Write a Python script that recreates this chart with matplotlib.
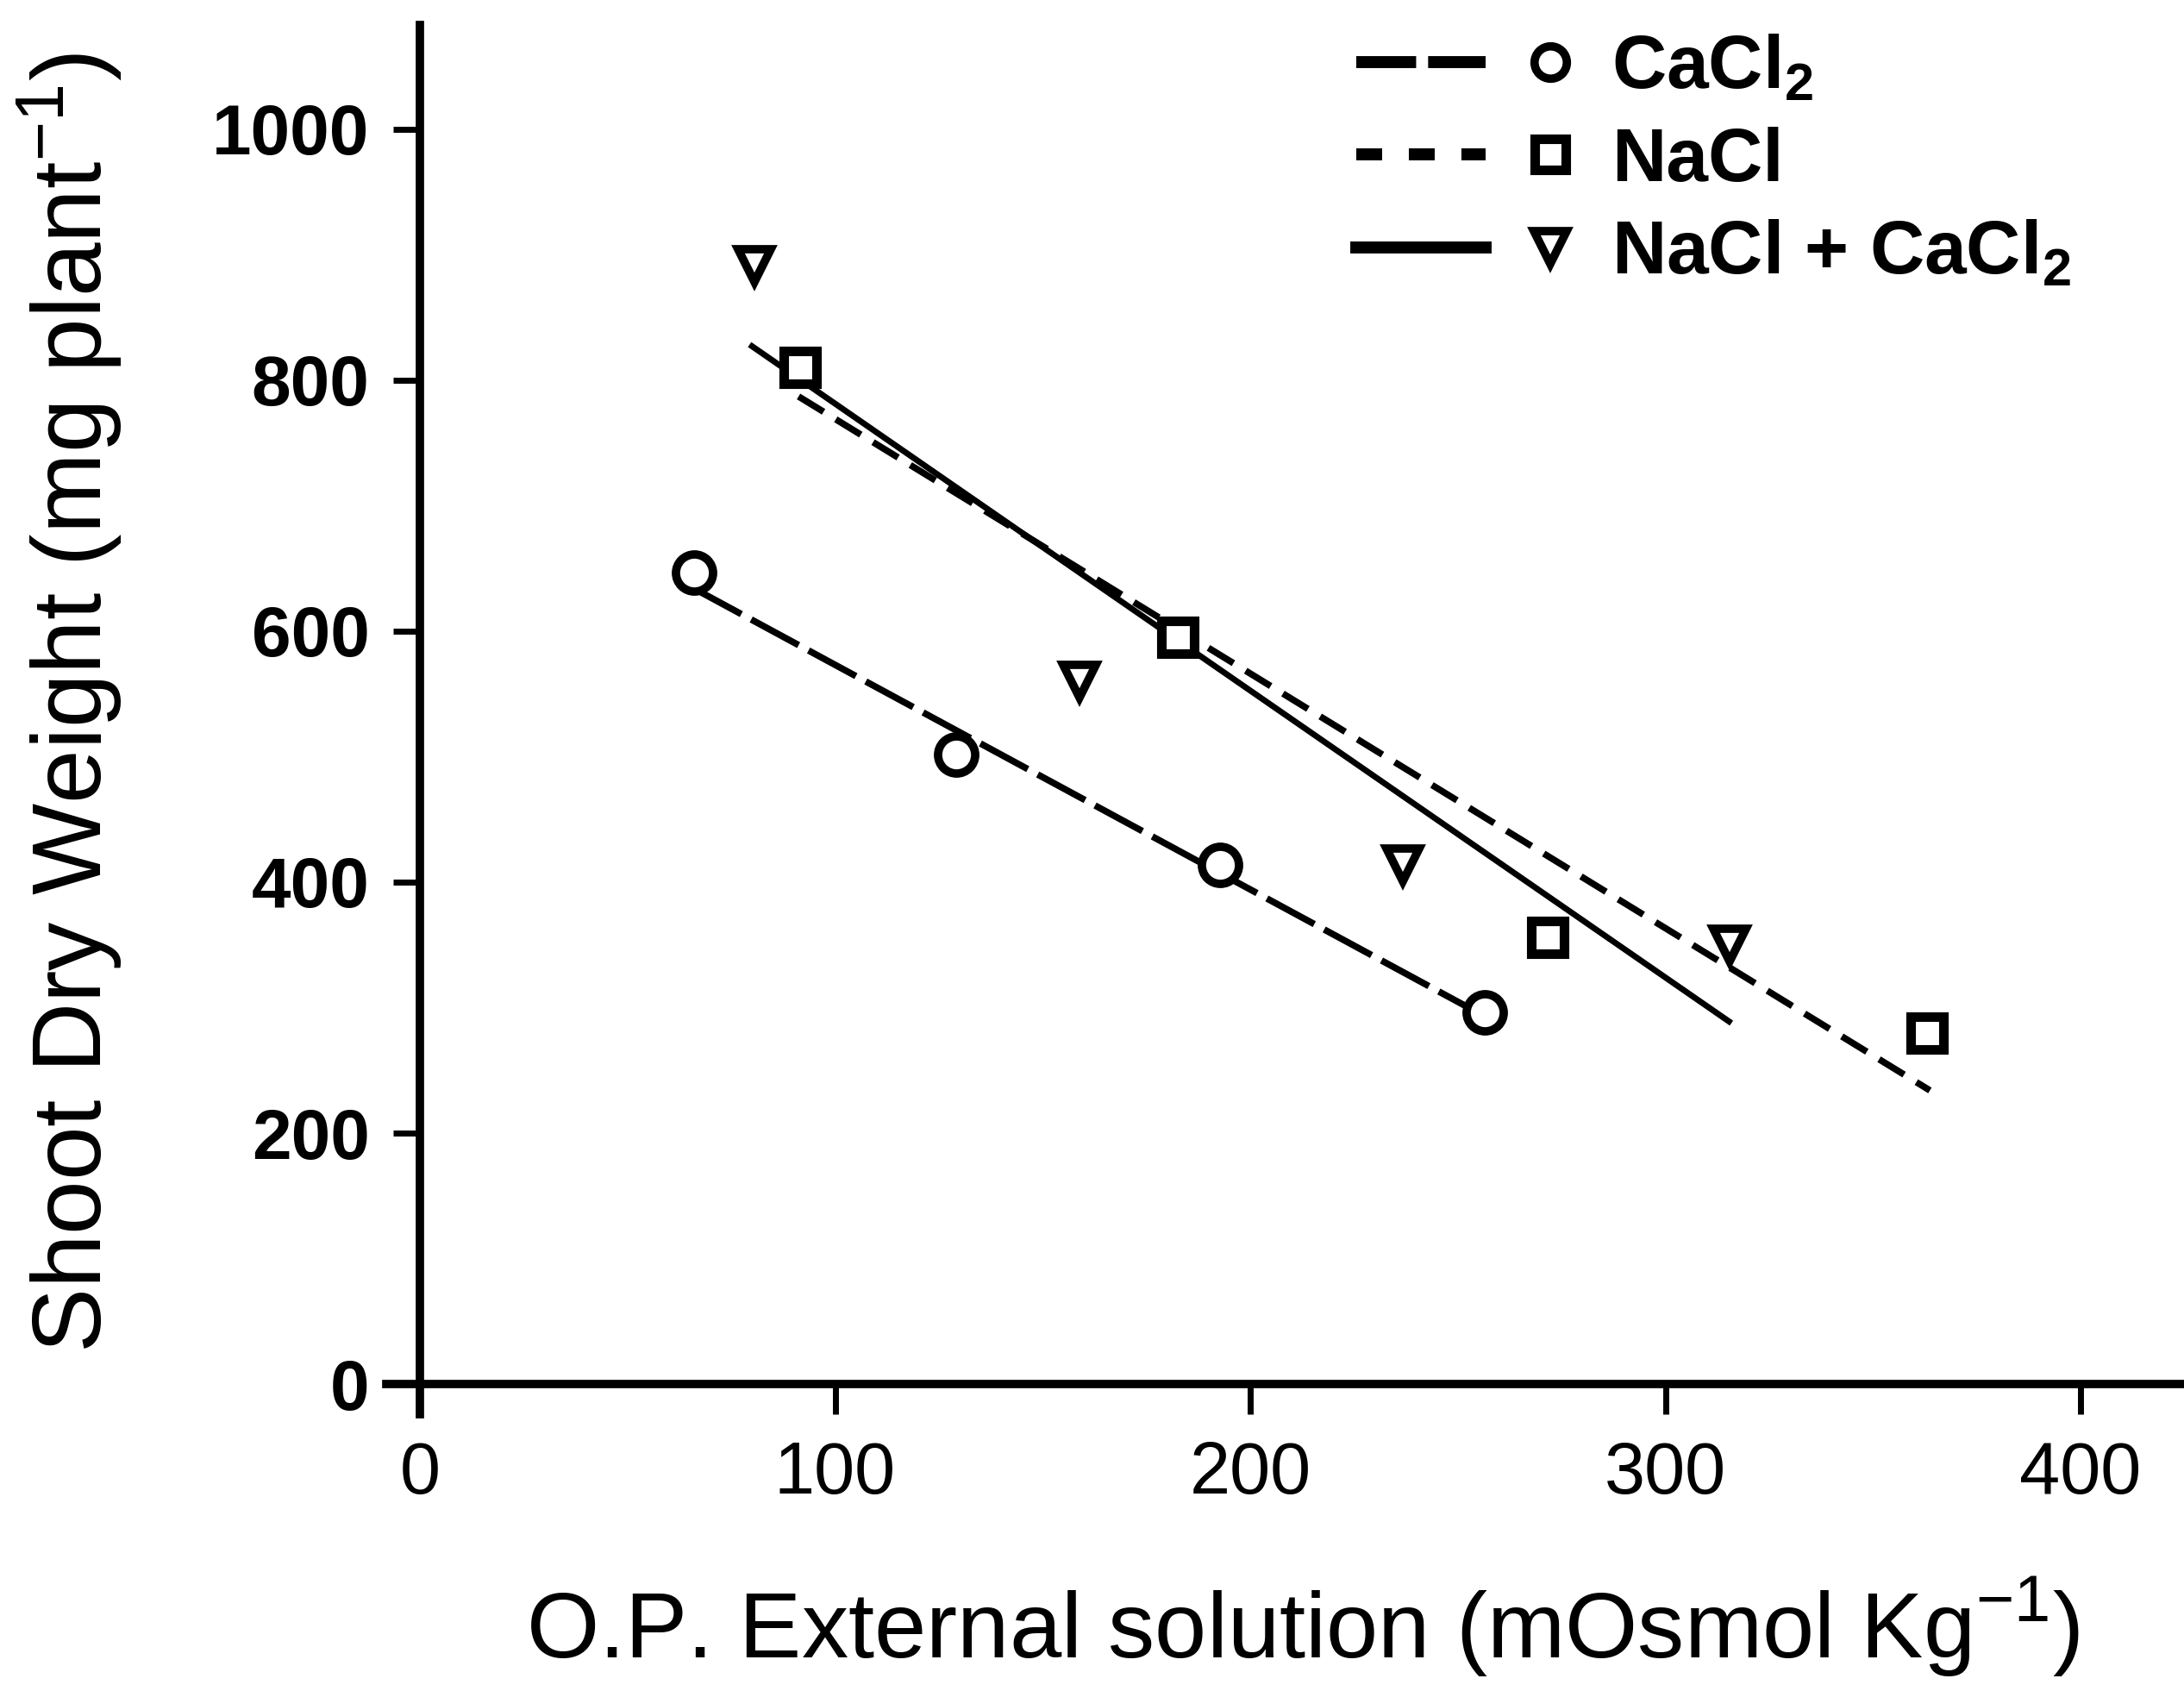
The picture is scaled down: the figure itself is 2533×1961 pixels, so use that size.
import matplotlib
matplotlib.use("Agg")
import matplotlib.pyplot as plt
from matplotlib.lines import Line2D
from matplotlib.legend_handler import HandlerTuple

# osmotic pressure of the external solution (mOsmol/kg) and shoot dry weight (mg/plant)
cacl2_x = [66.0, 129.2, 192.7, 256.5]
cacl2_y = [647, 502, 414, 296]
nacl_x = [91.6, 182.6, 271.7, 363.0]
nacl_y = [810, 595, 356, 280]
mix_x = [80.6, 158.9, 236.8, 315.5]
mix_y = [891, 560, 414, 350]

# fitted lines, start and end points
cacl2_fit_x = [66.0, 256.5]
cacl2_fit_y = [634, 293]
nacl_fit_x = [91.2, 363.7]
nacl_fit_y = [787, 234]
mix_fit_x = [80.0, 315.3]
mix_fit_y = [827, 289]

x_ticks = [0, 100, 200, 300, 400]
y_ticks = [0, 200, 400, 600, 800, 1000]
labels = [r"CaCl$_{\mathregular{2}}$", "NaCl", r"NaCl + CaCl$_{\mathregular{2}}$"]

plt.rcParams["font.family"] = ["Liberation Sans", "DejaVu Sans"]
plt.rcParams["lines.scale_dashes"] = False

fig = plt.figure(figsize=(25.33, 19.61), dpi=100)
ax = fig.add_axes([0.17687, 0.16369, 0.82313, 0.82152])
ax.set_xlim(-8.1, 424.9)
ax.set_ylim(-24, 1083)

long_dash = (0, (45, 9.4))
short_dash = (0, (24.5, 12))

ax.plot(cacl2_fit_x, cacl2_fit_y, color="black", lw=5.5, linestyle=long_dash)
ax.plot(nacl_fit_x, nacl_fit_y, color="black", lw=5.5, linestyle=short_dash)
ax.plot(mix_fit_x, mix_fit_y, color="black", lw=5)

ax.plot(cacl2_x, cacl2_y, "o", ms=31, mew=7, mfc="white", mec="black", ls="none")
ax.plot(nacl_x, nacl_y, "s", ms=28, mew=8, mfc="white", mec="black", ls="none")
ax.plot(mix_x, mix_y, "v", ms=27, mew=7, mfc="white", mec="black", ls="none")

for side in ["top", "right"]:
    ax.spines[side].set_visible(False)
for side in ["left", "bottom"]:
    ax.spines[side].set_position(("data", 0))
    ax.spines[side].set_linewidth(7)

ax.set_xticks(x_ticks)
ax.set_yticks(y_ticks)
ax.tick_params(axis="y", direction="out", length=22, width=5, pad=20, labelsize=59)
ax.tick_params(axis="x", direction="out", length=25, width=5, pad=22, labelsize=61)
for t in ax.get_yticklabels():
    t.set_fontweight("bold")

ax.set_xlabel(r"O.P. External solution (mOsmol Kg$^{\mathregular{-1}}$)", fontsize=78, labelpad=55)
ax.set_ylabel(r"Shoot Dry Weight (mg plant$^{\mathregular{-1}}$)", fontsize=81, labelpad=74)
ax.xaxis.label.set_x(0.51)
ax.yaxis.label.set_y(0.512)

# legend: line segment, then marker, then label
line_handles = [
    Line2D([], [], color="black", lw=10, linestyle=(0, (50, 10))),
    Line2D([], [], color="black", lw=10, linestyle=(0, (21.6, 22.3))),
    Line2D([], [], color="black", lw=10),
]
marker_handles = [
    Line2D([], [], marker="o", ms=27, mew=7, mfc="white", mec="black", ls="none"),
    Line2D([], [], marker="s", ms=26, mew=8, mfc="white", mec="black", ls="none"),
    Line2D([], [], marker="v", ms=27, mew=7, mfc="white", mec="black", ls="none"),
]
handles = list(zip(line_handles, marker_handles))
ax.legend(handles, labels, handler_map={tuple: HandlerTuple(ndivide=None, pad=0)},
          loc="center left", bbox_to_anchor=(0.6210, 0.9046), bbox_transform=fig.transFigure,
          frameon=False, borderpad=0, borderaxespad=0, handlelength=3.43,
          handletextpad=-0.05, labelspacing=0.3, prop={"size": 63, "weight": "bold"})

fig.savefig("out.png", dpi=100, facecolor="white")
